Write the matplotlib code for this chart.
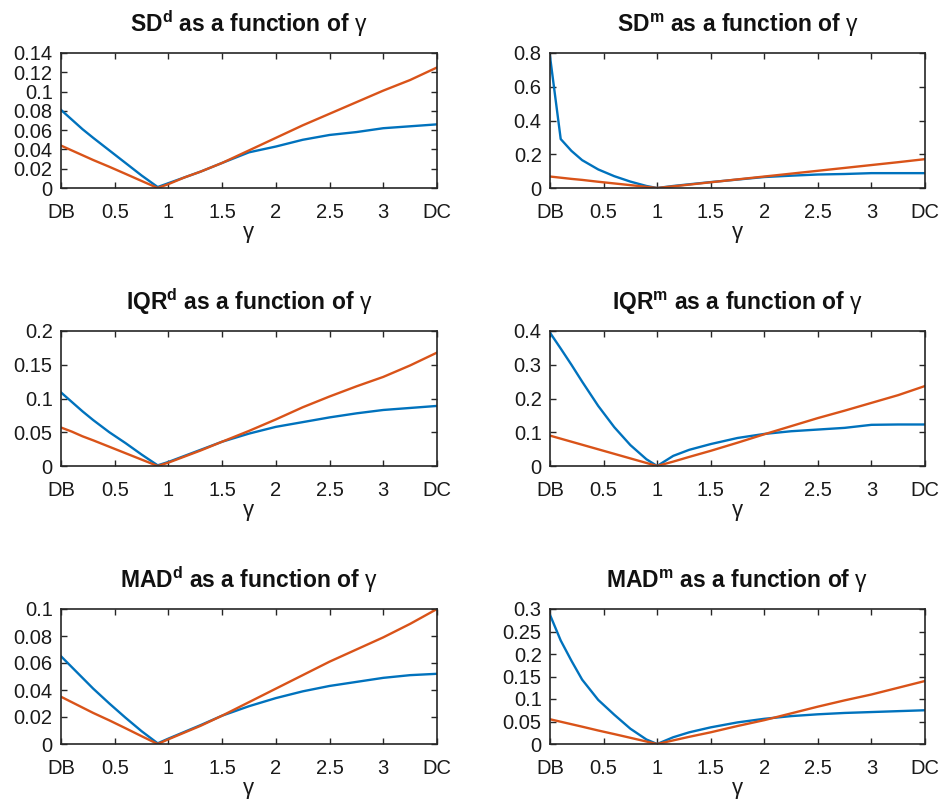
import matplotlib
matplotlib.use("Agg")
import matplotlib.pyplot as plt
from matplotlib.ticker import FixedLocator, FuncFormatter

plt.rcParams['font.family'] = ['Liberation Sans', 'DejaVu Sans']
plt.rcParams['mathtext.fontset'] = 'custom'
plt.rcParams['mathtext.rm'] = 'Liberation Sans'
plt.rcParams['mathtext.it'] = 'Liberation Sans'
plt.rcParams['mathtext.bf'] = 'Liberation Sans:bold'

# gamma grid (x positions of the sampled values)
GAMMA = [0, 0.1, 0.2, 0.3, 0.45, 0.6, 0.75, 0.9, 1.0, 1.15, 1.3, 1.5,
         1.75, 2.0, 2.25, 2.5, 2.75, 3.0, 3.25, 3.5]
X_TICKS = [0, 0.5, 1, 1.5, 2, 2.5, 3, 3.5]
X_TICKLABELS = ['DB', '0.5', '1', '1.5', '2', '2.5', '3', 'DC']

# SD^d
SDd_blue = [0.081, 0.071, 0.061, 0.052, 0.039, 0.026, 0.013, 0.001, 0.005, 0.011,
            0.017, 0.026, 0.037, 0.043, 0.050, 0.055, 0.058, 0.062, 0.064, 0.066]
SDd_orange = [0.044, 0.039, 0.034, 0.029, 0.022, 0.0147, 0.0073, 0.0, 0.004, 0.011,
              0.017, 0.026, 0.039, 0.052, 0.065, 0.077, 0.089, 0.101, 0.112, 0.125]
# SD^m
SDm_blue = [0.78, 0.29, 0.22, 0.165, 0.11, 0.07, 0.038, 0.012, 0.0, 0.012,
            0.022, 0.035, 0.05, 0.065, 0.073, 0.08, 0.083, 0.088, 0.088, 0.088]
SDm_orange = [0.068, 0.061, 0.054, 0.048, 0.037, 0.027, 0.017, 0.007, 0.0, 0.010,
              0.020, 0.034, 0.051, 0.068, 0.085, 0.102, 0.119, 0.136, 0.153, 0.171]
# IQR^d
IQRd_blue = [0.109, 0.095, 0.081, 0.068, 0.05, 0.034, 0.017, 0.001, 0.006, 0.015,
             0.024, 0.036, 0.048, 0.058, 0.065, 0.072, 0.078, 0.083, 0.086, 0.089]
IQRd_orange = [0.057, 0.051, 0.044, 0.038, 0.0285, 0.019, 0.0095, 0.0, 0.005, 0.014,
               0.023, 0.036, 0.052, 0.069, 0.087, 0.103, 0.118, 0.132, 0.149, 0.168]
# IQR^m
IQRm_blue = [0.395, 0.348, 0.300, 0.250, 0.178, 0.115, 0.062, 0.02, 0.0, 0.03,
             0.048, 0.065, 0.083, 0.095, 0.103, 0.108, 0.113, 0.122, 0.123, 0.123]
IQRm_orange = [0.09, 0.081, 0.072, 0.063, 0.0495, 0.036, 0.0225, 0.009, 0.0, 0.013,
               0.027, 0.045, 0.069, 0.094, 0.118, 0.142, 0.164, 0.187, 0.21, 0.237]
# MAD^d
MADd_blue = [0.065, 0.057, 0.049, 0.041, 0.030, 0.0195, 0.0095, 0.0005, 0.004, 0.009,
             0.014, 0.021, 0.028, 0.034, 0.039, 0.043, 0.046, 0.049, 0.051, 0.052]
MADd_orange = [0.035, 0.031, 0.027, 0.023, 0.0175, 0.0117, 0.0058, 0.0, 0.0035, 0.0085,
               0.0135, 0.021, 0.031, 0.041, 0.051, 0.061, 0.070, 0.079, 0.089, 0.1]
# MAD^m
MADm_blue = [0.287, 0.23, 0.185, 0.143, 0.098, 0.065, 0.034, 0.01, 0.0, 0.015,
             0.026, 0.037, 0.048, 0.056, 0.062, 0.066, 0.069, 0.071, 0.073, 0.075]
MADm_orange = [0.055, 0.0495, 0.044, 0.0385, 0.030, 0.022, 0.0138, 0.0055, 0.0, 0.008,
               0.016, 0.026, 0.040, 0.053, 0.068, 0.083, 0.097, 0.11, 0.125, 0.14]

TITLES = [r'SD$^{\mathbf{d}}$ as a function of $\gamma$',
          r'SD$^{\mathbf{m}}$ as a function of $\gamma$',
          r'IQR$^{\mathbf{d}}$ as a function of $\gamma$',
          r'IQR$^{\mathbf{m}}$ as a function of $\gamma$',
          r'MAD$^{\mathbf{d}}$ as a function of $\gamma$',
          r'MAD$^{\mathbf{m}}$ as a function of $\gamma$']
BLUES = [SDd_blue, SDm_blue, IQRd_blue, IQRm_blue, MADd_blue, MADm_blue]
ORANGES = [SDd_orange, SDm_orange, IQRd_orange, IQRm_orange, MADd_orange, MADm_orange]
Y_TICKS = [[0, 0.02, 0.04, 0.06, 0.08, 0.1, 0.12, 0.14],
           [0, 0.2, 0.4, 0.6, 0.8],
           [0, 0.05, 0.1, 0.15, 0.2],
           [0, 0.1, 0.2, 0.3, 0.4],
           [0, 0.02, 0.04, 0.06, 0.08, 0.1],
           [0, 0.05, 0.1, 0.15, 0.2, 0.25, 0.3]]

BLUE = '#0072BD'
ORANGE = '#D95319'
AX_COLOR = '#262626'

W, H = 941, 806
fig = plt.figure(figsize=(W / 100, H / 100), dpi=100)
col_left = [61, 550]
col_w = [376, 375]
row_top = [53, 331, 609]
row_h = 135

for i in range(6):
    r, c = divmod(i, 2)
    x0 = col_left[c] / W
    y0 = 1 - (row_top[r] + row_h) / H
    ax = fig.add_axes([x0, y0, col_w[c] / W, row_h / H])
    ax.plot(GAMMA, BLUES[i], color=BLUE, lw=1.7)
    ax.plot(GAMMA, ORANGES[i], color=ORANGE, lw=1.7)
    ax.set_xlim(0, 3.5)
    yt = Y_TICKS[i]
    ax.set_ylim(yt[0], yt[-1])
    ax.xaxis.set_major_locator(FixedLocator(X_TICKS))
    ax.set_xticklabels(X_TICKLABELS)
    ax.yaxis.set_major_locator(FixedLocator(yt))
    ax.yaxis.set_major_formatter(FuncFormatter(lambda v, p: '%g' % v))
    ax.tick_params(direction='in', top=True, right=True, length=4, width=1,
                   color=AX_COLOR, labelsize=14.5, labelcolor='#1a1a1a')
    ax.tick_params(axis='x', pad=11)
    ax.tick_params(axis='y', pad=6)
    for s in ax.spines.values():
        s.set_color(AX_COLOR)
        s.set_linewidth(1.2)
    ax.set_title(TITLES[i], fontsize=16.5, fontweight='bold', pad=15, color='#111111')
    ax.set_xlabel(r'$\gamma$', fontsize=16, labelpad=1, color='#1a1a1a')

fig.savefig('out.png', dpi=100)
